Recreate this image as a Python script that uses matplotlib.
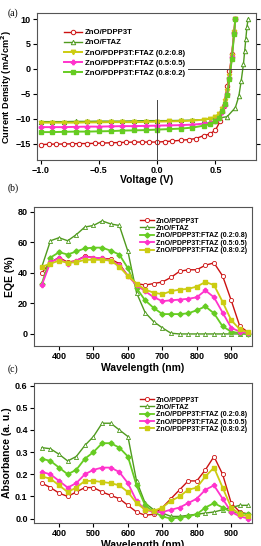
import matplotlib
matplotlib.use('Agg')
import matplotlib.pyplot as plt

plt.rcParams['font.family'] = ['Liberation Sans', 'DejaVu Sans']
plt.rcParams['font.weight'] = 'bold'
plt.rcParams['axes.labelweight'] = 'bold'

# ---------------- data ----------------
# (a) J-V curves
v_pdpp3t = [-1.0, -0.93, -0.87, -0.8, -0.73, -0.67, -0.6, -0.53, -0.47, -0.4, -0.33, -0.27, -0.2,
            -0.13, -0.07, 0.0, 0.07, 0.13, 0.2, 0.27, 0.33, 0.4, 0.45, 0.5, 0.54, 0.57, 0.6, 0.62,
            0.64, 0.66, 0.67]
j_pdpp3t = [-15.2, -15.15, -15.1, -15.1, -15.05, -15.0, -15.0, -14.95, -14.9, -14.85, -14.8, -14.75,
            -14.7, -14.7, -14.7, -14.7, -14.6, -14.5, -14.35, -14.2, -14.0, -13.4, -13.1, -12.3,
            -10.5, -7.5, -3.5, -0.5, 3.0, 7.5, 10.0]

v_ftaz = [-1.0, -0.9, -0.8, -0.7, -0.6, -0.5, -0.4, -0.3, -0.2, -0.1, 0.0, 0.1, 0.2, 0.3, 0.4,
          0.5, 0.6, 0.67, 0.7, 0.72, 0.74, 0.75, 0.76, 0.77, 0.78]
j_ftaz = [-10.6, -10.6, -10.6, -10.55, -10.55, -10.5, -10.5, -10.5, -10.45, -10.4, -10.4, -10.4,
          -10.35, -10.3, -10.2, -10.0, -9.6, -7.8, -5.5, -2.5, 1.0, 3.5, 6.0, 8.5, 10.0]

v_blend = [-1.0, -0.9, -0.8, -0.7, -0.6, -0.5, -0.4, -0.3, -0.2, -0.1, 0.0, 0.1, 0.2, 0.3, 0.4,
           0.45, 0.5, 0.53, 0.56, 0.58, 0.6, 0.62, 0.64, 0.66, 0.67]
j_blend_28 = [-10.8, -10.8, -10.8, -10.8, -10.75, -10.75, -10.7, -10.7, -10.7, -10.65, -10.6,
              -10.55, -10.5, -10.4, -10.2, -10.0, -9.6, -9.0, -8.0, -6.5, -4.5, -1.5, 2.5, 7.5, 10.0]
j_blend_55 = [-11.7, -11.7, -11.7, -11.65, -11.6, -11.6, -11.55, -11.5, -11.5, -11.45, -11.4,
              -11.35, -11.3, -11.2, -11.0, -10.8, -10.4, -9.8, -8.7, -7.2, -5.0, -1.8, 2.3, 7.3, 10.0]
j_blend_82 = [-12.7, -12.7, -12.65, -12.6, -12.6, -12.55, -12.5, -12.4, -12.35, -12.3, -12.2,
              -12.1, -12.0, -11.8, -11.4, -11.1, -10.5, -9.8, -8.4, -7.0, -5.2, -2.0, 2.0, 7.0, 10.0]

# (b) EQE and (c) absorbance, wavelength in nm
wl = [350, 375, 400, 425, 450, 475, 500, 525, 550, 575, 600, 625, 650, 675, 700, 725, 750, 775,
      800, 825, 850, 875, 900, 925, 950]

eqe_pdpp3t = [40, 47, 50, 47, 48, 51, 50, 49.5, 49, 46, 38, 33, 32, 33, 34, 37, 41, 42, 42, 45,
              46.5, 38, 22, 5, 1]
eqe_ftaz = [44, 61, 63, 61, 65, 70, 71, 74, 72, 71, 54, 27, 14, 8, 4, 0.5, 0, 0, 0, 0, 0, 0, 0,
            0, 0]
eqe_28 = [33, 50, 53.5, 52, 54, 56, 56.5, 56.5, 54.5, 52, 43, 30, 22, 17, 13, 13, 13, 13.5, 15.5,
          18, 13.5, 5, 1.5, 0.5, 0]
eqe_55 = [32, 47, 49.5, 46, 48, 50.5, 50, 49.5, 48, 45, 38, 32, 28, 24, 21.5, 22, 22.5, 23, 24,
          28.5, 24, 14, 4, 1.5, 0.5]
eqe_82 = [44, 46, 48, 46.5, 47, 48.5, 48.5, 48.5, 48, 44, 38, 33, 29, 27, 26, 28, 29, 29.5, 31,
          34, 32, 21, 9, 3, 1]

abs_pdpp3t = [0.16, 0.14, 0.115, 0.10, 0.12, 0.14, 0.14, 0.12, 0.105, 0.09, 0.06, 0.03, 0.015,
              0.02, 0.05, 0.09, 0.13, 0.17, 0.17, 0.22, 0.28, 0.20, 0.07, 0.03, 0.02]
abs_ftaz = [0.32, 0.315, 0.29, 0.26, 0.28, 0.33, 0.37, 0.43, 0.43, 0.40, 0.37, 0.17, 0.07, 0.04,
            0.025, 0.01, 0.01, 0.015, 0.02, 0.025, 0.03, 0.04, 0.05, 0.06, 0.06]
abs_28 = [0.27, 0.26, 0.23, 0.20, 0.22, 0.27, 0.30, 0.34, 0.34, 0.32, 0.28, 0.15, 0.06, 0.03,
          0.01, 0.0, 0.005, 0.01, 0.02, 0.05, 0.07, 0.05, 0.03, 0.025, 0.02]
abs_55 = [0.21, 0.20, 0.17, 0.14, 0.16, 0.20, 0.22, 0.23, 0.23, 0.21, 0.16, 0.08, 0.04, 0.03,
          0.03, 0.04, 0.05, 0.07, 0.09, 0.13, 0.15, 0.09, 0.03, 0.01, 0.0]
abs_82 = [0.19, 0.18, 0.15, 0.12, 0.14, 0.17, 0.17, 0.165, 0.16, 0.15, 0.12, 0.07, 0.04, 0.035,
          0.05, 0.08, 0.10, 0.13, 0.14, 0.19, 0.23, 0.14, 0.05, 0.02, 0.01]

labels = ['ZnO/PDPP3T', 'ZnO/FTAZ', 'ZnO/PDPP3T:FTAZ (0.2:0.8)',
          'ZnO/PDPP3T:FTAZ (0.5:0.5)', 'ZnO/PDPP3T:FTAZ (0.8:0.2)']

red = '#cc1111'
dkgreen = '#4f9a1e'
green = '#66cc22'
magenta = '#ff33cc'
yellow = '#cccc11'

fig = plt.figure(figsize=(2.61, 5.46), dpi=100)


def style_axes(ax):
    ax.tick_params(labelsize=6.5, width=0.8, length=3, pad=1.5)
    for s in ax.spines.values():
        s.set_linewidth(0.8)
        s.set_color('#555555')


# ---------------- (a) ----------------
ax = fig.add_axes([0.142, 0.707, 0.840, 0.269])
ms = 3.2
ax.plot(v_pdpp3t, j_pdpp3t, color=red, marker='o', mfc='white', ms=ms, lw=1, mew=0.7, label=labels[0])
ax.plot(v_ftaz, j_ftaz, color=dkgreen, marker='^', mfc='white', ms=ms, lw=1, mew=0.7, label=labels[1])
ax.plot(v_blend, j_blend_28, color=yellow, marker='v', ms=ms, lw=1.4, label=labels[2])
ax.plot(v_blend, j_blend_55, color=magenta, marker='P', ms=ms, lw=1.4, label=labels[3])
ax.plot(v_blend, j_blend_82, color=green, marker='s', ms=ms, lw=1.4, label=labels[4])
ax.axvline(0, ymax=0.41, color='#444444', lw=0.7)
ax.axhline(0, xmin=0.69, color='#444444', lw=0.7)
ax.set_xlim(-1.03, 0.85)
ax.set_ylim(-18.3, 11.2)
ax.set_xticks([-1.0, -0.5, 0.0, 0.5])
ax.set_yticks([10, 5, 0, -5, -10, -15])
ax.tick_params(right=True, top=False, direction='out')
ax.set_xlabel('Voltage (V)', fontsize=7.5, labelpad=0)
ax.set_ylabel('Current Density (mA/cm$^\\mathbf{2}$)', fontsize=6.6, labelpad=1)
style_axes(ax)
ax.legend(loc='upper left', bbox_to_anchor=(0.1, 0.93), fontsize=5.6, frameon=False,
          handlelength=2.2, labelspacing=0.35, borderpad=0.2, handletextpad=0.4)
fig.text(0.03, 0.985, '(a)', family='Liberation Serif', fontweight='normal', fontsize=7, va='top')

# ---------------- (b) ----------------
ax = fig.add_axes([0.130, 0.366, 0.835, 0.2546])
ms = 3
ax.plot(wl, eqe_pdpp3t, color=red, marker='o', mfc='white', ms=ms, lw=1, mew=0.6, label=labels[0])
ax.plot(wl, eqe_ftaz, color=dkgreen, marker='^', mfc='white', ms=ms, lw=1, mew=0.6, label=labels[1])
ax.plot(wl, eqe_28, color=green, marker='D', ms=2.6, lw=1.3, label=labels[2])
ax.plot(wl, eqe_55, color=magenta, marker='P', ms=ms, lw=1.3, label=labels[3])
ax.plot(wl, eqe_82, color=yellow, marker='s', ms=2.6, lw=1.3, label=labels[4])
ax.set_xlim(327, 960)
ax.set_ylim(-8, 83)
ax.set_xticks([400, 500, 600, 700, 800, 900])
ax.set_yticks([0, 20, 40, 60, 80])
ax.set_xlabel('Wavelength (nm)', fontsize=7.5, labelpad=1)
ax.set_ylabel('EQE (%)', fontsize=7.5, labelpad=2)
style_axes(ax)
ax.legend(loc='upper right', bbox_to_anchor=(1.0, 0.96), fontsize=5, frameon=False,
          handlelength=2.0, labelspacing=0.05, borderpad=0.2, handletextpad=0.3)
fig.text(0.03, 0.665, '(b)', family='Liberation Serif', fontweight='normal', fontsize=7, va='top')

# ---------------- (c) ----------------
ax = fig.add_axes([0.130, 0.042, 0.835, 0.256])
ax.plot(wl, abs_pdpp3t, color=red, marker='o', mfc='white', ms=ms, lw=1, mew=0.6, label=labels[0])
ax.plot(wl, abs_ftaz, color=dkgreen, marker='^', mfc='white', ms=ms, lw=1, mew=0.6, label=labels[1])
ax.plot(wl, abs_28, color=green, marker='D', ms=2.6, lw=1.3, label=labels[2])
ax.plot(wl, abs_55, color=magenta, marker='P', ms=ms, lw=1.3, label=labels[3])
ax.plot(wl, abs_82, color=yellow, marker='s', ms=2.6, lw=1.3, label=labels[4])
ax.set_xlim(327, 960)
ax.set_ylim(-0.02, 0.61)
ax.set_xticks([400, 500, 600, 700, 800, 900])
ax.set_yticks([0.0, 0.1, 0.2, 0.3, 0.4, 0.5, 0.6])
ax.set_xlabel('Wavelength (nm)', fontsize=7.5, labelpad=1)
ax.set_ylabel('Absorbance (a. u.)', fontsize=7.5, labelpad=2)
style_axes(ax)
ax.legend(loc='upper right', bbox_to_anchor=(1.0, 0.94), fontsize=5, frameon=False,
          handlelength=2.0, labelspacing=0.05, borderpad=0.2, handletextpad=0.3)
fig.text(0.03, 0.332, '(c)', family='Liberation Serif', fontweight='normal', fontsize=7, va='top')

fig.savefig('out.png', dpi=100)
